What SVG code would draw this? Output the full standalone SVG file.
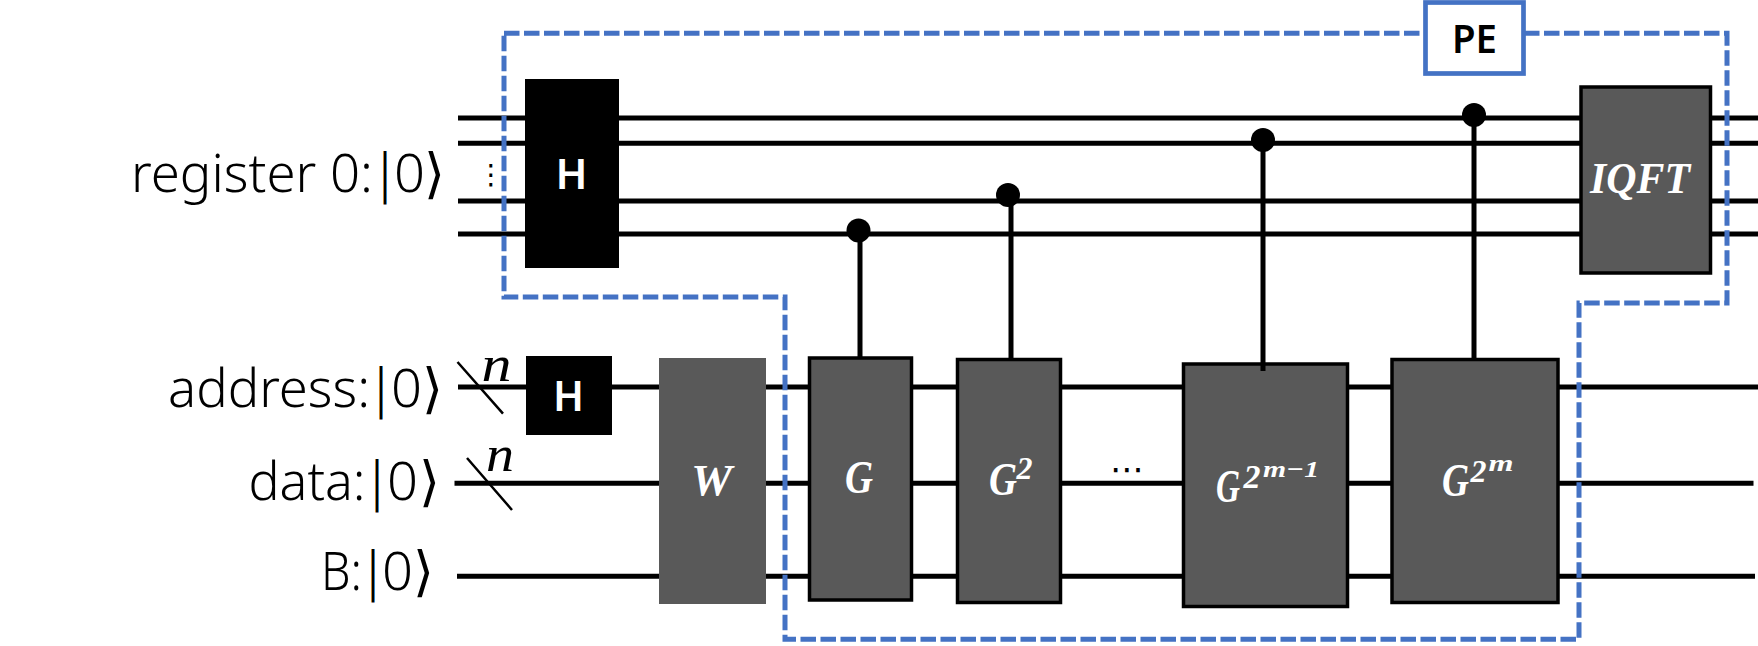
<svg xmlns="http://www.w3.org/2000/svg" width="1758" height="646" viewBox="0 0 1758 646">
<style>
.w{stroke:#000;stroke-width:5;fill:none}
.s{stroke:#000;stroke-width:2.5;fill:none}
.g{fill:#595959;stroke:#000;stroke-width:3.5}
.k{fill:#000}
.lab{font-family:"Noto Sans",sans-serif;font-weight:300;font-size:54px;fill:#000}
.kb{font-family:"DejaVu Sans",sans-serif;font-weight:400;font-size:54px;fill:#000}
.m{font-family:"Liberation Serif",serif;font-weight:bold;font-style:italic;fill:#fff}
.n{font-family:"Liberation Serif",serif;font-style:italic;font-size:50px;fill:#000}
.h{font-family:"Noto Sans",sans-serif;font-weight:600;font-size:41px;fill:#fff}
.d{font-family:"DejaVu Sans",sans-serif;fill:#000}
</style>
<rect width="1758" height="646" fill="#fff"/>
<g id="connectors">
<path class="w" d="M458 118H1758M458 143.300H1758M458 201H1758M458 234H1758"/>
<path class="w" d="M458 387H1758M454.500 483.300H1753.500M457 576.300H1755"/>
<path class="s" d="M457.500 362L503 413.700M467 458L512 510"/>
</g>
<g id="label-register"><text class="lab" y="191.500"><tspan x="131" textLength="242" lengthAdjust="spacingAndGlyphs">register 0:</tspan><tspan class="kb" x="379" textLength="12" lengthAdjust="spacingAndGlyphs">|</tspan><tspan x="394" textLength="31" lengthAdjust="spacingAndGlyphs">0</tspan><tspan class="kb" x="424" textLength="21" lengthAdjust="spacingAndGlyphs">⟩</tspan></text></g>
<g id="label-address"><text class="lab" y="407"><tspan x="168" textLength="202" lengthAdjust="spacingAndGlyphs">address:</tspan><tspan class="kb" x="375" textLength="12" lengthAdjust="spacingAndGlyphs">|</tspan><tspan x="391" textLength="31" lengthAdjust="spacingAndGlyphs">0</tspan><tspan class="kb" x="422" textLength="21" lengthAdjust="spacingAndGlyphs">⟩</tspan></text></g>
<g id="label-data"><text class="lab" y="500"><tspan x="248.500" textLength="117" lengthAdjust="spacingAndGlyphs">data:</tspan><tspan class="kb" x="371" textLength="12" lengthAdjust="spacingAndGlyphs">|</tspan><tspan x="387" textLength="31" lengthAdjust="spacingAndGlyphs">0</tspan><tspan class="kb" x="419" textLength="21" lengthAdjust="spacingAndGlyphs">⟩</tspan></text></g>
<g id="label-b"><text class="lab" y="590"><tspan x="321" textLength="41" lengthAdjust="spacingAndGlyphs">B:</tspan><tspan class="kb" x="367" textLength="12" lengthAdjust="spacingAndGlyphs">|</tspan><tspan x="382" textLength="31" lengthAdjust="spacingAndGlyphs">0</tspan><tspan class="kb" x="413" textLength="21" lengthAdjust="spacingAndGlyphs">⟩</tspan></text></g>
<g id="dots-v"><text class="d" x="491" y="184" font-size="28" text-anchor="middle">⋮</text></g>
<g id="dots-h"><text class="d" x="1127" y="481" font-size="34" text-anchor="middle">⋯</text></g>
<g id="n-address"><text class="n" x="481.500" y="381" textLength="30" lengthAdjust="spacingAndGlyphs">n</text></g>
<g id="n-data"><text class="n" x="486" y="470.500" textLength="28" lengthAdjust="spacingAndGlyphs">n</text></g>
<g id="h-register"><rect class="k" x="525" y="79" width="94" height="189"/><text class="h" x="555.500" y="189" textLength="32" lengthAdjust="spacingAndGlyphs">H</text></g>
<g id="h-address"><rect class="k" x="526" y="356" width="86" height="79"/><text class="h" x="553" y="410.500" textLength="31" lengthAdjust="spacingAndGlyphs">H</text></g>
<g id="w"><rect x="659" y="358" width="107" height="246" fill="#595959"/><text class="m" x="691" y="495" font-size="44" textLength="41" lengthAdjust="spacingAndGlyphs">W</text></g>
<g id="g1"><rect class="g" x="809.500" y="358" width="102" height="242"/><text class="m" x="845" y="493" font-size="46" textLength="28" lengthAdjust="spacingAndGlyphs">G</text></g>
<g id="g2"><rect class="g" x="957.500" y="359.500" width="103" height="243"/><text class="m" y="494.500" font-size="46"><tspan x="989" textLength="28" lengthAdjust="spacingAndGlyphs">G</tspan><tspan x="1016.500" y="479" font-size="31" textLength="16" lengthAdjust="spacingAndGlyphs">2</tspan></text></g>
<g id="gm1"><rect class="g" x="1183.500" y="364" width="164" height="242.500"/><text class="m" y="502" font-size="46"><tspan x="1216" textLength="24" lengthAdjust="spacingAndGlyphs">G</tspan><tspan x="1243.500" y="488" font-size="33" textLength="17" lengthAdjust="spacingAndGlyphs">2</tspan><tspan x="1263" y="477" font-size="24" textLength="56" lengthAdjust="spacingAndGlyphs">m−1</tspan></text></g>
<g id="gm"><rect class="g" x="1392" y="359.500" width="166" height="243"/><text class="m" y="496" font-size="46"><tspan x="1442" textLength="27" lengthAdjust="spacingAndGlyphs">G</tspan><tspan x="1470.500" y="482" font-size="31" textLength="16" lengthAdjust="spacingAndGlyphs">2</tspan><tspan x="1488.500" y="471" font-size="24" textLength="25" lengthAdjust="spacingAndGlyphs">m</tspan></text></g>
<g id="iqft"><rect class="g" x="1581" y="87" width="129.500" height="186"/><text class="m" x="1590" y="193" font-size="44" textLength="100" lengthAdjust="spacingAndGlyphs">IQFT</text></g>
<g id="controls">
<path class="w" d="M860 230V359M1011 195V359M1263 140V371M1474 115V359"/>
<circle class="k" cx="858.500" cy="230.500" r="12"/>
<circle class="k" cx="1008" cy="195" r="12"/>
<circle class="k" cx="1263" cy="140" r="12"/>
<circle class="k" cx="1474" cy="115" r="12"/>
</g>
<g id="pe-region">
<path d="M504 33.300H1727V303H1579V639.300H785V297H504Z" fill="none" stroke="#4472C4" stroke-width="5" stroke-dasharray="15.500 4.500"/>
<rect x="1425.500" y="2.500" width="98" height="71" fill="#fff" stroke="#4472C4" stroke-width="4.700"/>
<text x="1452" y="52.500" font-family="Noto Sans,sans-serif" font-size="39" font-weight="600" textLength="45" lengthAdjust="spacingAndGlyphs">PE</text>
</g>
</svg>
